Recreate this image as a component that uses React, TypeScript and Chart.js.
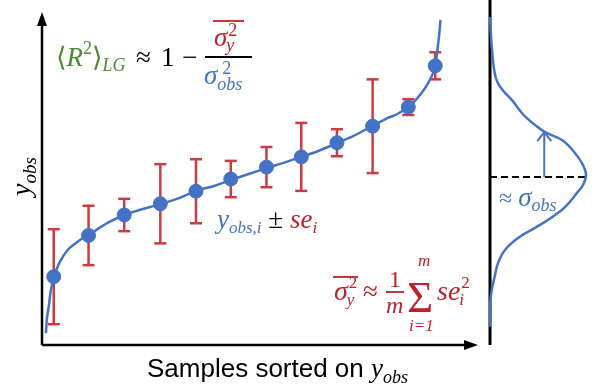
import React, { useEffect, useRef } from 'react';
import { Chart, registerables } from 'chart.js';
Chart.register(...registerables);

// ---- data (y_obs in arbitrary units 0..10, sample rank in % of sorted samples) ----
const sampleRank = [2.7, 10.7, 18.9, 27.2, 35.4, 43.4, 51.6, 59.6, 67.8, 76.0, 84.2, 90.4];
const sampleY = [2.07, 3.32, 3.94, 4.28, 4.66, 5.03, 5.39, 5.7, 6.13, 6.63, 7.21, 8.46];
const sampleSE = [1.44, 0.9, 0.49, 1.2, 0.97, 0.55, 0.61, 1.03, 0.41, 1.42, 0.24, 0.41];

const curveRank = [0.9, 1.14, 1.6, 2.05, 2.74, 4.1, 5.9, 7.5, 9.1, 10.7, 13.2, 15.5, 18.9, 22.4, 27.2, 31.5, 35.4, 39.5, 43.4, 47.5, 51.6, 55.5, 59.6, 63.5, 67.8, 71.5, 76.0, 79.5, 81.7, 84.2, 86.3, 88.1, 89.5, 90.4, 90.9, 91.3, 91.6];
const curveY = [0.36, 0.82, 1.21, 1.67, 2.06, 2.52, 2.88, 3.06, 3.21, 3.33, 3.55, 3.73, 3.94, 4.09, 4.27, 4.45, 4.67, 4.82, 5.0, 5.18, 5.36, 5.52, 5.7, 5.88, 6.12, 6.33, 6.64, 6.88, 7.0, 7.21, 7.48, 7.79, 8.12, 8.45, 8.94, 9.39, 9.85];

const densityY = [9.94, 8.94, 8.1, 7.75, 7.42, 6.97, 6.67, 6.45, 6.21, 5.82, 5.45, 5.15, 4.85, 4.61, 4.18, 3.88, 3.55, 3.24, 2.88, 2.48, 2.06, 1.67, 1.27, 0.55];
const densityVal = [0, 0.021, 0.06, 0.125, 0.229, 0.35, 0.469, 0.573, 0.75, 0.885, 0.969, 1.0, 0.969, 0.906, 0.781, 0.65, 0.469, 0.292, 0.156, 0.083, 0.048, 0.018, 0.003, 0];

const meanY = 5.09;
const meanPlusSigma = 6.45;
const arrowDensity = 0.565;

// ---- styles ----
const BLUE = '#4472c4';
const RED_BAR = '#cc3b42';
const RED_TXT = '#c0202a';
const GREEN = '#4a8a2e';
const SERIF = '"Liberation Serif", "DejaVu Serif", serif';
const SANS = '"Liberation Sans", Arial, sans-serif';

type Run = [string, string, string, number?];
function drawRuns(ctx: CanvasRenderingContext2D, x: number, y: number, runs: Run[]): number {
  for (const [t, f, c, dy = 0] of runs) {
    ctx.font = f;
    ctx.fillStyle = c;
    ctx.fillText(t, x, y + dy);
    x += ctx.measureText(t).width;
  }
  return x;
}
function line(ctx: CanvasRenderingContext2D, x1: number, y1: number, x2: number, y2: number, color: string, w: number) {
  ctx.beginPath();
  ctx.strokeStyle = color;
  ctx.lineWidth = w;
  ctx.moveTo(x1, y1);
  ctx.lineTo(x2, y2);
  ctx.stroke();
}

const it = (s: number) => `italic ${s}px ${SERIF}`;
const rm = (s: number) => `${s}px ${SERIF}`;

const mainPlugin = {
  id: 'mainDeco',
  beforeDatasetsDraw(chart: any) {
    const ctx = chart.ctx as CanvasRenderingContext2D;
    const xs = chart.scales.x, ys = chart.scales.y;
    ctx.save();
    sampleRank.forEach((r, i) => {
      const px = xs.getPixelForValue(r);
      const top = ys.getPixelForValue(sampleY[i] + sampleSE[i]);
      const bot = ys.getPixelForValue(sampleY[i] - sampleSE[i]);
      line(ctx, px, top, px, bot, RED_BAR, 2.5);
      line(ctx, px - 6, top, px + 6, top, RED_BAR, 2.5);
      line(ctx, px - 6, bot, px + 6, bot, RED_BAR, 2.5);
    });
    ctx.restore();
  },
  afterDraw(chart: any) {
    const ctx = chart.ctx as CanvasRenderingContext2D;
    const a = chart.chartArea;
    ctx.save();
    // axes with arrows
    line(ctx, a.left, a.bottom, a.left, a.top + 8, '#000', 2.5);
    line(ctx, a.left, a.bottom, a.right - 8, a.bottom, '#000', 2.5);
    ctx.fillStyle = '#000';
    ctx.beginPath();
    ctx.moveTo(a.left, a.top - 3);
    ctx.lineTo(a.left - 5, a.top + 11);
    ctx.lineTo(a.left + 5, a.top + 11);
    ctx.closePath();
    ctx.fill();
    ctx.beginPath();
    ctx.moveTo(a.right + 1, a.bottom);
    ctx.lineTo(a.right - 13, a.bottom - 5);
    ctx.lineTo(a.right - 13, a.bottom + 5);
    ctx.closePath();
    ctx.fill();

    ctx.textBaseline = 'alphabetic';
    // <R^2>_LG ≈ 1 − (σy²‾)/(σ²obs)
    let x = drawRuns(ctx, 56, 66, [
      ['⟨', rm(27), GREEN],
      ['R', it(27), GREEN],
      ['2', rm(18), GREEN, -12],
      ['⟩', rm(27), GREEN],
      ['LG', it(18), GREEN, 5],
    ]);
    drawRuns(ctx, 136, 66, [['≈', rm(27), '#000']]);
    drawRuns(ctx, 161, 66, [['1', rm(27), '#000']]);
    drawRuns(ctx, 182, 66, [['−', rm(27), '#000']]);
    line(ctx, 205, 57, 252, 57, '#000', 1.8);
    x = drawRuns(ctx, 214, 46, [['σ', it(27), RED_TXT]]);
    drawRuns(ctx, x + 1, 36, [['2', rm(18), RED_TXT]]);
    drawRuns(ctx, x - 1, 51, [['y', it(18), RED_TXT]]);
    line(ctx, 213, 21, 244, 21, RED_TXT, 1.8);
    x = drawRuns(ctx, 204, 84, [['σ', it(27), BLUE]]);
    drawRuns(ctx, x + 5, 74, [['2', rm(18), BLUE]]);
    drawRuns(ctx, x, 90, [['obs', it(18), BLUE]]);

    // y_obs,i ± se_i
    drawRuns(ctx, 217, 228, [
      ['y', it(27), BLUE],
      ['obs,i', it(17), BLUE, 5],
      [' ± ', rm(27), '#000'],
      ['se', it(27), RED_TXT],
      ['i', it(17), RED_TXT, 5],
    ]);

    // σy²‾ ≈ 1/m Σ se_i²
    x = drawRuns(ctx, 334, 300, [['σ', it(28), RED_TXT]]);
    drawRuns(ctx, x + 1, 288, [['2', rm(17), RED_TXT]]);
    drawRuns(ctx, x - 1, 305, [['y', it(17), RED_TXT]]);
    line(ctx, 333, 277, 358, 277, RED_TXT, 1.8);
    drawRuns(ctx, 363, 300, [['≈', rm(27), RED_TXT]]);
    drawRuns(ctx, 389, 287, [['1', rm(24), RED_TXT]]);
    line(ctx, 386, 292, 404, 292, RED_TXT, 1.8);
    drawRuns(ctx, 386, 313, [['m', it(24), RED_TXT]]);
    drawRuns(ctx, 407, 312, [['Σ', rm(45), RED_TXT]]);
    drawRuns(ctx, 418, 266, [['m', it(17), RED_TXT]]);
    drawRuns(ctx, 409, 331, [['i=1', it(17), RED_TXT]]);
    x = drawRuns(ctx, 437, 300, [['se', it(28), RED_TXT]]);
    drawRuns(ctx, x + 1, 288, [['2', rm(17), RED_TXT]]);
    drawRuns(ctx, x - 1, 305, [['i', it(17), RED_TXT]]);

    // x axis title
    drawRuns(ctx, 147, 377, [
      ['Samples sorted on ', `26px ${SANS}`, '#000'],
      ['y', it(27), '#000'],
      ['obs', it(18), '#000', 6],
    ]);
    // y axis title (rotated)
    ctx.translate(30, 196);
    ctx.rotate(-Math.PI / 2);
    drawRuns(ctx, 0, 0, [
      ['y', it(28), '#000'],
      ['obs', it(19), '#000', 6],
    ]);
    ctx.restore();
  },
};

const densityPlugin = {
  id: 'densityDeco',
  beforeDatasetsDraw(chart: any) {
    const ctx = chart.ctx as CanvasRenderingContext2D;
    const a = chart.chartArea;
    ctx.save();
    line(ctx, a.left, 0, a.left, a.bottom, '#000', 3);
    ctx.restore();
  },
  afterDraw(chart: any) {
    const ctx = chart.ctx as CanvasRenderingContext2D;
    const xs = chart.scales.x, ys = chart.scales.y;
    ctx.save();
    const ax = xs.getPixelForValue(arrowDensity);
    const ay = ys.getPixelForValue(meanPlusSigma);
    ctx.beginPath();
    ctx.strokeStyle = BLUE;
    ctx.lineWidth = 2;
    ctx.moveTo(ax - 7, ay + 9);
    ctx.lineTo(ax, ay);
    ctx.lineTo(ax + 7, ay + 9);
    ctx.stroke();
    drawRuns(ctx, 14, 206, [
      ['≈ ', rm(24), BLUE],
      ['σ', it(27), BLUE],
      ['obs', it(18), BLUE, 5],
    ]);
    ctx.restore();
  },
};

function useChart(ref: React.RefObject<HTMLCanvasElement>, makeConfig: () => any) {
  useEffect(() => {
    if (!ref.current) return;
    const chart = new Chart(ref.current, makeConfig());
    return () => chart.destroy();
  }, []);
}

export default function App() {
  const mainRef = useRef<HTMLCanvasElement>(null);
  const densRef = useRef<HTMLCanvasElement>(null);

  useChart(mainRef, () => ({
    type: 'line',
    data: {
      datasets: [
        {
          data: curveRank.map((r, i) => ({ x: r, y: curveY[i] })),
          borderColor: BLUE,
          borderWidth: 2.5,
          pointRadius: 0,
          tension: 0.3,
          fill: false,
          clip: false,
        },
        {
          data: sampleRank.map((r, i) => ({ x: r, y: sampleY[i] })),
          showLine: false,
          pointRadius: 7,
          pointBackgroundColor: BLUE,
          pointBorderColor: BLUE,
          clip: false,
        },
      ],
    },
    options: {
      responsive: false,
      animation: false,
      layout: { padding: { left: 42, top: 15, right: 4, bottom: 46 } },
      scales: {
        x: { type: 'linear', min: 0, max: 100, display: false },
        y: { type: 'linear', min: 0, max: 10, display: false },
      },
      plugins: { legend: { display: false }, tooltip: { enabled: false } },
    },
    plugins: [mainPlugin],
  }));

  useChart(densRef, () => ({
    type: 'line',
    data: {
      datasets: [
        {
          data: densityVal.map((d, i) => ({ x: d, y: densityY[i] })),
          borderColor: BLUE,
          borderWidth: 2.5,
          pointRadius: 0,
          tension: 0.4,
          clip: false,
        },
        {
          data: [{ x: 0, y: meanY }, { x: 1, y: meanY }],
          borderColor: '#000',
          borderWidth: 2,
          borderDash: [7, 4],
          pointRadius: 0,
          clip: false,
        },
        {
          data: [{ x: arrowDensity, y: meanY }, { x: arrowDensity, y: meanPlusSigma }],
          borderColor: BLUE,
          borderWidth: 2,
          pointRadius: 0,
          clip: false,
        },
      ],
    },
    options: {
      responsive: false,
      animation: false,
      layout: { padding: { left: 5, top: 15, right: 9, bottom: 46 } },
      scales: {
        x: { type: 'linear', min: 0, max: 1, display: false },
        y: { type: 'linear', min: 0, max: 10, display: false },
      },
      plugins: { legend: { display: false }, tooltip: { enabled: false } },
    },
    plugins: [densityPlugin],
  }));

  return (
    <div style={{ position: 'fixed', left: 0, top: 0, width: 595, height: 391, background: '#fff' }}>
      <canvas ref={mainRef} width={485} height={391} style={{ position: 'absolute', left: 0, top: 0 }} />
      <canvas ref={densRef} width={110} height={391} style={{ position: 'absolute', left: 485, top: 0 }} />
    </div>
  );
}
